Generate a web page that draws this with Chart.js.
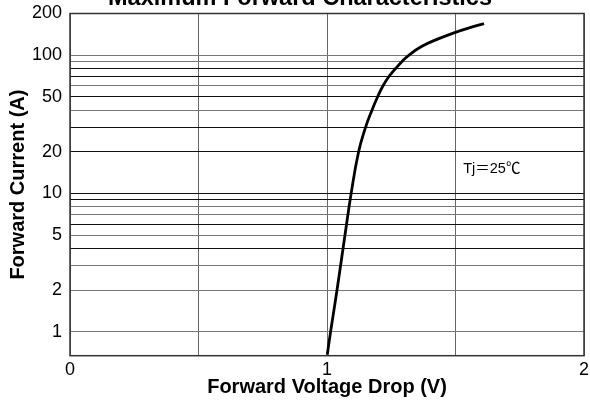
<!DOCTYPE html>
<html>
<head>
<meta charset="utf-8">
<script src="https://cdn.jsdelivr.net/npm/chart.js@4/dist/chart.umd.min.js"></script>
<style>
  html, body { margin: 0; padding: 0; background: #fff; }
  #wrap { width: 590px; height: 405px; position: relative; }
</style>
</head>
<body>
<div id="wrap"><canvas id="c" width="590" height="405"></canvas></div>
<script>
// ---- data ----
const forwardVoltage = [1.001, 1.014, 1.039, 1.070, 1.094, 1.123, 1.150, 1.175, 1.197, 1.218, 1.241, 1.267, 1.292, 1.319, 1.366, 1.428, 1.494, 1.556, 1.611];
const forwardCurrent = [0.68, 1, 2, 5, 10, 20, 30, 40, 50, 60, 70, 80, 90, 100, 115, 130, 145, 158, 169];
const yGridValues = [1, 2, 3, 4, 5, 6, 7, 8, 9, 10, 20, 30, 40, 50, 60, 70, 80, 90, 100, 200];
const yTickLabels = [1, 2, 5, 10, 20, 50, 100, 200];
const xGridValues = [0, 0.5, 1, 1.5, 2];
const xTickLabels = [0, 1, 2];
const darkGridValues = [4, 6, 9, 10, 20, 30, 50, 70, 80];
const titleText = 'Maximum Forward Characteristics';
const xTitle = 'Forward Voltage Drop (V)';
const yTitle = 'Forward Current (A)';
const noteText = 'Tj＝25℃';

const FONT = '"Liberation Sans", Arial, "Noto Sans CJK JP", sans-serif';

const overlay = {
  id: 'overlay',
  afterDraw(chart) {
    const ctx = chart.ctx;
    const a = chart.chartArea;
    ctx.save();
    ctx.strokeStyle = '#333';
    ctx.lineWidth = 1.5;
    ctx.strokeRect(a.left, a.top, a.right - a.left, a.bottom - a.top);
    ctx.fillStyle = '#000';
    ctx.font = 'bold 23.5px ' + FONT;
    ctx.textAlign = 'center';
    ctx.textBaseline = 'alphabetic';
    ctx.fillText(titleText, 300, 5);
    ctx.font = '14.5px ' + FONT;
    ctx.textAlign = 'left';
    ctx.textBaseline = 'middle';
    const xs = chart.scales.x, ys = chart.scales.y;
    ctx.fillText(noteText, xs.getPixelForValue(1.53), ys.getPixelForValue(15));
    ctx.restore();
  }
};

new Chart(document.getElementById('c'), {
  type: 'line',
  data: {
    datasets: [{
      data: forwardVoltage.map((v, i) => ({ x: v, y: forwardCurrent[i] })),
      borderColor: '#000',
      borderWidth: 2.8,
      pointRadius: 0,
      fill: false,
      tension: 0.45
    }]
  },
  options: {
    responsive: false,
    animation: false,
    layout: { padding: { top: 13.5, right: 6, left: 0, bottom: 0 } },
    plugins: { legend: { display: false }, tooltip: { enabled: false }, title: { display: false } },
    scales: {
      x: {
        type: 'linear',
        min: 0, max: 2,
        afterBuildTicks(s) { s.ticks = xGridValues.map(v => ({ value: v })); },
        afterFit(s) { s.height = 49.3; s.paddingLeft = 0; s.paddingRight = 0; },
        border: { display: false },
        grid: { color: '#666', lineWidth: 1, drawTicks: false },
        ticks: {
          padding: 4,
          color: '#000',
          font: { family: FONT, size: 18 },
          maxRotation: 0,
          autoSkip: false,
          callback: v => xTickLabels.includes(v) ? String(v) : ''
        },
        title: {
          display: true,
          text: xTitle,
          color: '#000',
          font: { family: FONT, size: 20, weight: 'bold' },
          padding: { top: 0, bottom: 6 }
        }
      },
      y: {
        type: 'logarithmic',
        min: 0.67, max: 200,
        afterBuildTicks(s) { s.ticks = yGridValues.map(v => ({ value: v })); },
        afterFit(s) { s.width = 70; s.paddingTop = 0; s.paddingBottom = 0; },
        border: { display: false },
        grid: {
          drawTicks: false,
          lineWidth: 1,
          color: c => darkGridValues.includes(c.tick && c.tick.value) ? '#111' : '#777'
        },
        ticks: {
          padding: 8,
          color: '#000',
          font: { family: FONT, size: 18 },
          autoSkip: false,
          callback: v => yTickLabels.includes(v) ? String(v) : ''
        },
        title: {
          display: true,
          text: yTitle,
          color: '#000',
          font: { family: FONT, size: 20, weight: 'bold' },
          padding: { top: 6.5, bottom: 0 }
        }
      }
    }
  },
  plugins: [overlay]
});
</script>
</body>
</html>
